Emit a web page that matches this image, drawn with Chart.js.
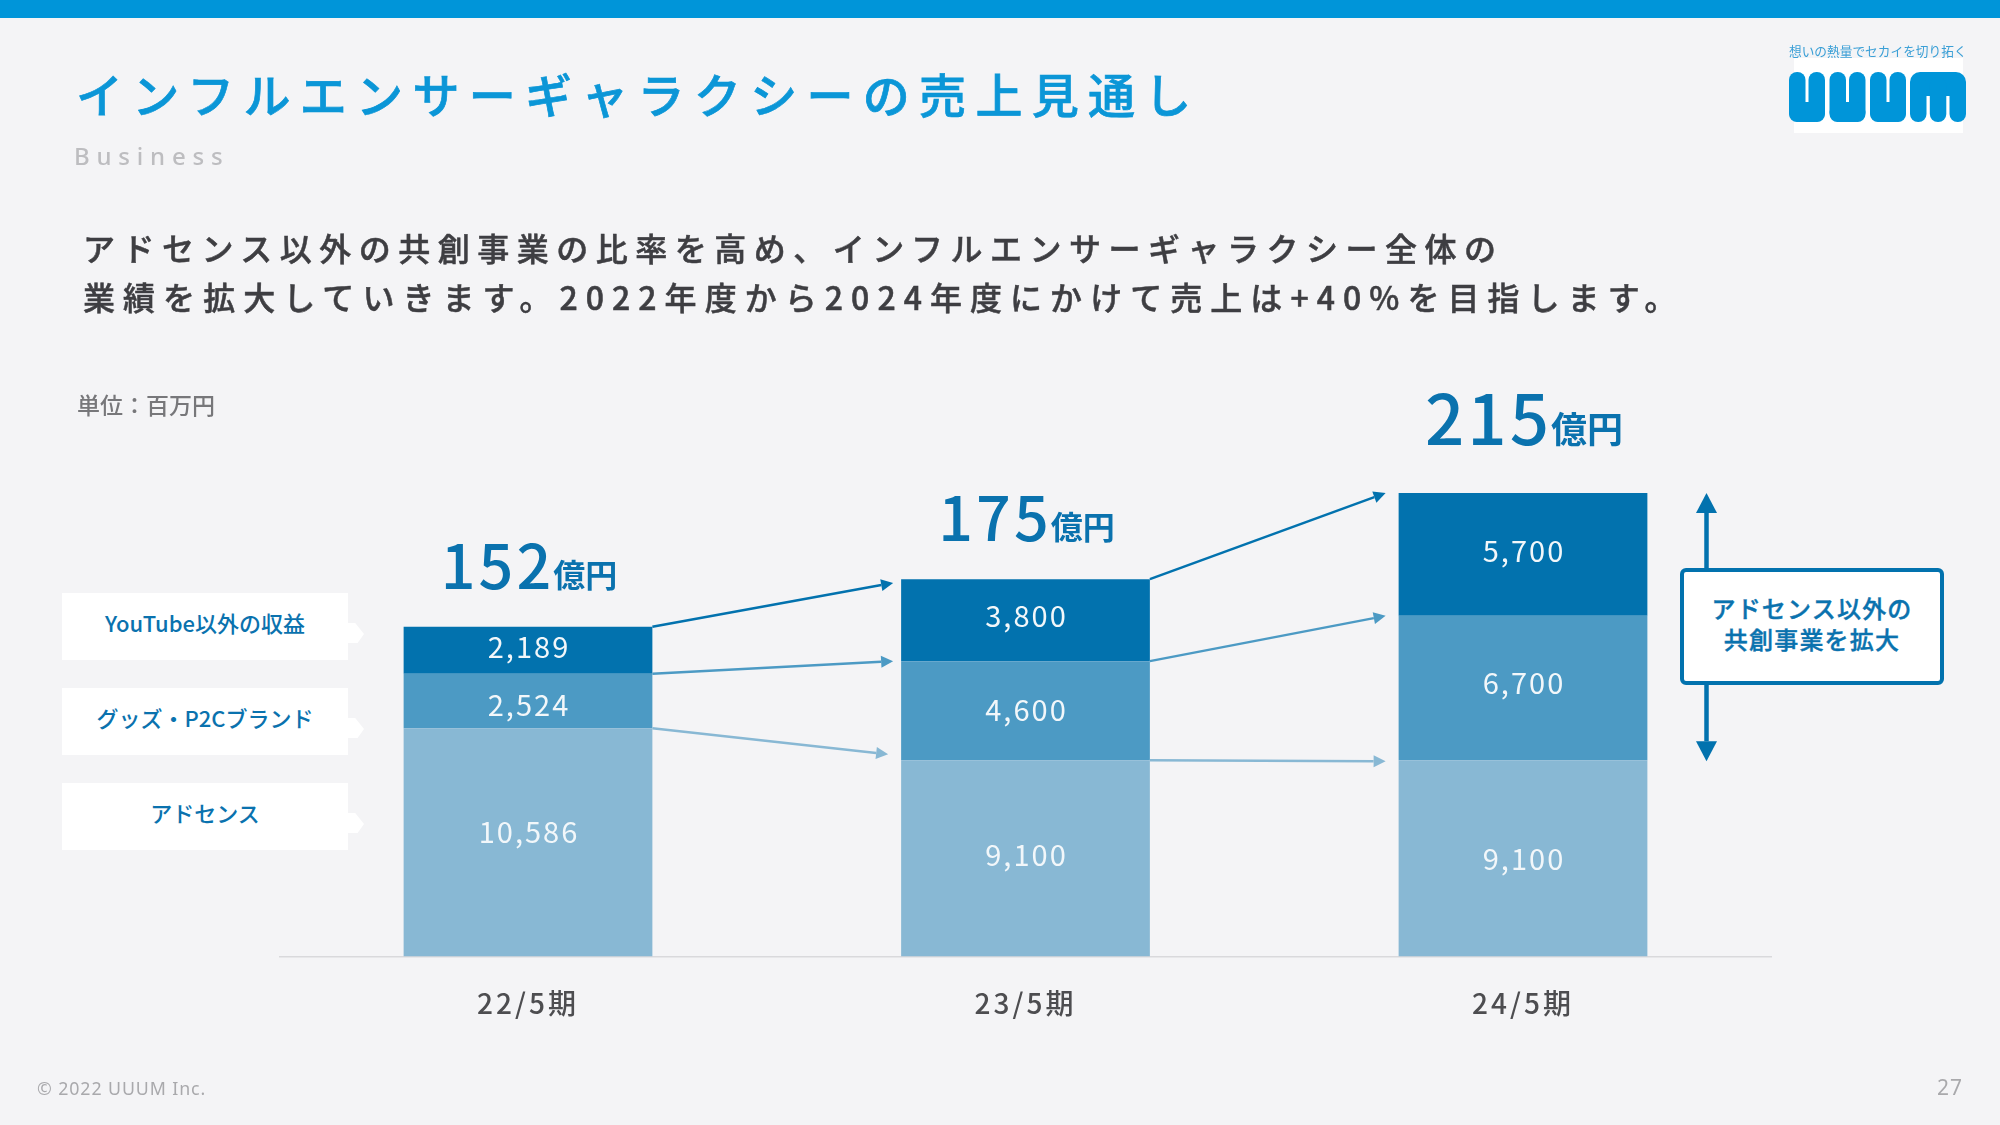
<!DOCTYPE html>
<html lang="ja">
<head>
<meta charset="utf-8">
<title>インフルエンサーギャラクシーの売上見通し</title>
<script src="https://cdn.jsdelivr.net/npm/chart.js@4"></script>
<style>
  * { box-sizing: border-box; }
  html, body { margin: 0; padding: 0; }
  body {
    position: relative; width: 2000px; height: 1125px; overflow: hidden;
    background: #f4f4f6; font-family: "Noto Sans CJK JP", "Noto Sans", sans-serif;
  }
  #salesChart { position: absolute; left: 0; top: 0; }
  .abs { position: absolute; white-space: nowrap; }
  #topBar { left: 0; top: 0; width: 2000px; height: 17.5px; background: #0095d9; }
  #title { left: 76px; top: 59px; font-size: 47px; line-height: 68px; font-weight: 500; -webkit-text-stroke: 0.7px #0b96d7; letter-spacing: 9.3px; color: #0b96d7; }
  #section { left: 74px; top: 138px; font-family: "Noto Sans", sans-serif; font-size: 24px; line-height: 36px; font-weight: 500; letter-spacing: 6.8px; color: #bdbdc0; }
  #lead { left: 83px; top: 223px; font-size: 32px; line-height: 48.5px; font-weight: 500; -webkit-text-stroke: 0.5px #3e3e42; letter-spacing: 7.5px; color: #3e3e42; }
  #lead span { letter-spacing: 8.05px; }
  #unit { left: 77px; top: 386px; font-size: 23px; line-height: 36px; font-weight: 500; color: #77777a; }
  #copyright { left: 37px; top: 1074px; font-family: "Noto Sans", sans-serif; font-size: 17.8px; line-height: 28px; letter-spacing: 0.9px; color: #a9a9ac; }
  #pageNo { left: 1937px; top: 1072px; font-family: "Noto Sans", sans-serif; font-size: 21px; line-height: 30px; letter-spacing: 1px; color: #a9a9ac; }
  #tagline { left: 1789px; top: 41px; font-size: 12.7px; line-height: 20px; color: #3a9fd6; }
  #logoBack { left: 1794px; top: 58px; width: 169px; height: 75px; background: #fff; }
  #logo { left: 1789px; top: 72px; }
  .tag {
    position: absolute; left: 62px; width: 286px; height: 67px; background: #fff;
    display: flex; align-items: center; justify-content: center; padding-bottom: 10px;
    font-size: 22px; font-weight: 500; color: #0a72ae; white-space: nowrap;
  }
  .tag::after {
    content: ""; position: absolute; left: 100%; top: 30px; width: 16px; height: 20px;
    background: #fff; clip-path: polygon(0 0, 45% 0, 100% 55%, 60% 100%, 0 100%);
  }
  #note {
    left: 1680px; top: 568px; width: 264px; height: 117px; background: #fff;
    border: 4px solid #0272ae; border-radius: 6px; display: flex; align-items: center; justify-content: center;
    padding-bottom: 6px;
    text-align: center; font-size: 24px; line-height: 30.5px; font-weight: 500; -webkit-text-stroke: 0.4px #0a72ae; letter-spacing: 1.2px; color: #0a72ae;
  }
</style>
</head>
<body>
<canvas id="salesChart" width="2000" height="1125"></canvas>

<div class="abs" id="topBar"></div>
<div class="abs" id="title">インフルエンサーギャラクシーの売上見通し</div>
<div class="abs" id="section">Business</div>
<div class="abs" id="lead">アドセンス以外の共創事業の比率を高め、インフルエンサーギャラクシー全体の<br><span>業績を拡大していきます。2022年度から2024年度にかけて売上は+40%を目指します。</span></div>
<div class="abs" id="unit">単位：百万円</div>
<div class="abs" id="copyright">© 2022 UUUM Inc.</div>
<div class="abs" id="pageNo">27</div>

<div class="abs" id="tagline">想いの熱量でセカイを切り拓く</div>
<div class="abs" id="logoBack"></div>
<svg class="abs" id="logo" width="178" height="50" viewBox="0 0 178 50" fill="#0095d9">
  <g id="u1">
    <rect x="0" y="0" width="16.5" height="50" rx="8"/>
    <rect x="19.5" y="0" width="16.5" height="50" rx="8"/>
    <rect x="0" y="30" width="36" height="20" rx="10"/>
  </g>
  <use href="#u1" x="40.5"/>
  <use href="#u1" x="81"/>
  <rect x="121" y="0" width="56" height="24" rx="10"/>
  <rect x="121" y="5" width="16.5" height="45" rx="8"/>
  <rect x="140.8" y="5" width="16.5" height="45" rx="8"/>
  <rect x="160.5" y="5" width="16.5" height="45" rx="8"/>
</svg>

<div class="abs" id="note">アドセンス以外の<br>共創事業を拡大</div>

<script>
// Data (million yen)
const periods = ["22/5期", "23/5期", "24/5期"];
const seriesNames = ["アドセンス", "グッズ・P2Cブランド", "YouTube以外の収益"];
const adsense = [10586, 9100, 9100];
const goods = [2524, 4600, 6700];
const youtube = [2189, 3800, 5700];
const totals = [152, 175, 215];
const totalUnit = "億円";

const seriesColors = ["#88b8d4", "#4c9ac4", "#0272ae"];
const seriesValues = [adsense, goods, youtube];

// Callouts on the left, top one first
const tagTops = { 2: 593, 1: 688, 0: 783 };
seriesNames.forEach((name, i) => {
  const tag = document.createElement("div");
  tag.className = "tag";
  tag.style.top = tagTops[i] + "px";
  tag.textContent = name;
  document.body.appendChild(tag);
});

function stackTop(seriesIndex, periodIndex) {
  let sum = 0;
  for (let s = 0; s <= seriesIndex; s++) sum += seriesValues[s][periodIndex];
  return sum;
}

function drawArrow(ctx, x1, y1, x2, y2, color, lineWidth, headLen, headWidth) {
  const angle = Math.atan2(y2 - y1, x2 - x1);
  const backX = x2 - headLen * Math.cos(angle);
  const backY = y2 - headLen * Math.sin(angle);
  ctx.strokeStyle = color;
  ctx.fillStyle = color;
  ctx.lineWidth = lineWidth;
  ctx.beginPath();
  ctx.moveTo(x1, y1);
  ctx.lineTo(backX, backY);
  ctx.stroke();
  ctx.beginPath();
  ctx.moveTo(x2, y2);
  ctx.lineTo(backX - headWidth / 2 * Math.sin(angle), backY + headWidth / 2 * Math.cos(angle));
  ctx.lineTo(backX + headWidth / 2 * Math.sin(angle), backY - headWidth / 2 * Math.cos(angle));
  ctx.closePath();
  ctx.fill();
}

const slideMarks = {
  id: "slideMarks",
  beforeDraw(chart) {
    chart.ctx.letterSpacing = "3px";
  },
  afterDatasetsDraw(chart) {
    const ctx = chart.ctx;
    const yScale = chart.scales.y;
    ctx.save();

    // values inside the segments, the slide does not centre them exactly
    const labelNudge = [[-10, -3, 1], [4, -1, -5], [-3, -4, -3]];
    ctx.fillStyle = "#f2f7fa";
    ctx.textAlign = "center";
    ctx.textBaseline = "middle";
    ctx.font = '400 29px "Noto Sans CJK JP"';
    ctx.letterSpacing = "2px";
    seriesValues.forEach((values, s) => {
      chart.getDatasetMeta(s).data.forEach((bar, i) => {
        const mid = (yScale.getPixelForValue(stackTop(s, i)) + yScale.getPixelForValue(stackTop(s, i) - values[i])) / 2;
        ctx.fillText(values[i].toLocaleString("en-US"), bar.x + 1, mid + labelNudge[s][i]);
      });
    });

    // arrows from one bar to the next
    const tipShift = [[-6, 1], [0, 0], [3.7, 0]];
    const tipGap = [[13, 13], [8, 13], [8, 13]];
    seriesValues.forEach((values, s) => {
      const bars = chart.getDatasetMeta(s).data;
      for (let i = 0; i < bars.length - 1; i++) {
        const x1 = bars[i].x + bars[i].width / 2;
        const x2 = bars[i + 1].x - bars[i + 1].width / 2 - tipGap[s][i];
        const y1 = yScale.getPixelForValue(stackTop(s, i));
        const y2 = yScale.getPixelForValue(stackTop(s, i + 1)) + tipShift[s][i];
        drawArrow(ctx, x1, y1, x2, y2, seriesColors[s], 2.5, 12, 12);
      }
    });

    // double arrow beside the last bar, adsense top to bar top
    const lastIndex = periods.length - 1;
    const arrowX = 1706.5;
    const yTop = yScale.getPixelForValue(stackTop(2, lastIndex));
    const yBottom = yScale.getPixelForValue(stackTop(0, lastIndex));
    const yMiddle = (yTop + yBottom) / 2;
    drawArrow(ctx, arrowX, yMiddle, arrowX, yTop, "#0272ae", 4.5, 20, 21);
    drawArrow(ctx, arrowX, yMiddle, arrowX, yBottom + 1, "#0272ae", 4.5, 20, 21);

    // totals above the bars
    ctx.textAlign = "left";
    ctx.textBaseline = "alphabetic";
    ctx.fillStyle = "#0a72ae";
    chart.getDatasetMeta(2).data.forEach((bar, i) => {
      const big = i === lastIndex;
      const numberFont = '500 ' + (big ? 69 : 61) + 'px "Noto Sans CJK JP"';
      const unitFont = '700 ' + (big ? 36 : 32) + 'px "Noto Sans CJK JP"';
      const numberText = String(totals[i]);
      ctx.font = numberFont;
      ctx.letterSpacing = "3px";
      const numberWidth = ctx.measureText(numberText).width;
      ctx.font = unitFont;
      ctx.letterSpacing = "0px";
      const unitWidth = ctx.measureText(totalUnit).width;
      const left = bar.x + 1 - (numberWidth - 1 + unitWidth) / 2;
      const baseY = yScale.getPixelForValue(stackTop(2, i)) - (big ? 47.5 : 38);
      ctx.font = numberFont;
      ctx.letterSpacing = "3px";
      ctx.fillText(numberText, left, baseY);
      ctx.font = unitFont;
      ctx.letterSpacing = "0px";
      ctx.fillText(totalUnit, left + numberWidth - 1, baseY - 2);
    });
    ctx.restore();
  }
};

new Chart(document.getElementById("salesChart").getContext("2d"), {
  type: "bar",
  data: {
    labels: periods,
    datasets: seriesNames.map((name, i) => ({
      label: name,
      data: seriesValues[i],
      backgroundColor: seriesColors[i],
      borderWidth: 0,
      categoryPercentage: 1,
      barPercentage: 0.5
    }))
  },
  options: {
    responsive: false,
    animation: false,
    devicePixelRatio: 1,
    layout: { padding: { left: 279.25, right: 228.25, top: 309.7, bottom: 0 } },
    plugins: { legend: { display: false }, tooltip: { enabled: false } },
    scales: {
      x: {
        stacked: true,
        grid: { display: false },
        border: { color: "#d9d9dc", width: 1.5 },
        ticks: {
          color: "#4d4d50",
          padding: 22,
          maxRotation: 0,
          font: { family: '"Noto Sans CJK JP"', size: 28, weight: "500" }
        },
        afterFit(axis) { axis.height = 168.5; }
      },
      y: { stacked: true, display: false, min: 0, max: 30000 }
    }
  },
  plugins: [slideMarks]
});
</script>
</body>
</html>
